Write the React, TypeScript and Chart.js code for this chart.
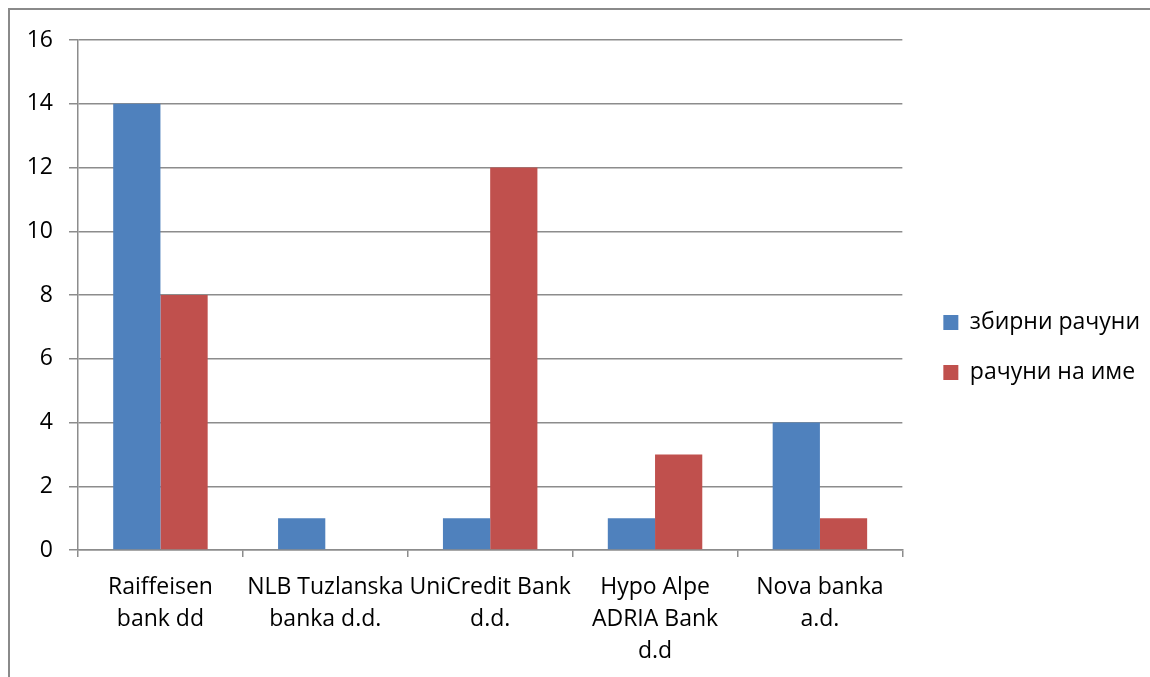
import React, { useEffect, useRef } from "react";
import { Chart, registerables } from "chart.js";

Chart.register(...registerables);

const categories: string[][] = [
  ["Raiffeisen", "bank dd"],
  ["NLB Tuzlanska", "banka d.d."],
  ["UniCredit Bank", "d.d."],
  ["Hypo Alpe", "ADRIA Bank", "d.d"],
  ["Nova banka", "a.d."],
];
const seriesNames = ["збирни рачуни", "рачуни на име"];
const zbirniValues = [14, 1, 1, 1, 4];
const naImeValues = [8, 0, 12, 3, 1];
const yTicks = { min: 0, max: 16, step: 2 };

const GRID = "#8c8c8c";
const FONT = "'Open Sans', 'Liberation Sans', sans-serif";
const FS = 23;

export default function App() {
  const ref = useRef<HTMLCanvasElement | null>(null);
  useEffect(() => {
    if (!ref.current) return;
    const chart = new Chart(ref.current, {
      type: "bar",
      data: {
        labels: categories,
        datasets: [
          {
            label: seriesNames[0],
            data: zbirniValues,
            backgroundColor: "#4F81BD",
            borderWidth: 0,
            categoryPercentage: 0.573,
            barPercentage: 1,
            yAxisID: "y",
          },
          {
            label: seriesNames[1],
            data: naImeValues,
            backgroundColor: "#C0504D",
            borderWidth: 0,
            categoryPercentage: 0.573,
            barPercentage: 1,
            yAxisID: "y",
          },
        ],
      },
      options: {
        responsive: false,
        animation: false,
        devicePixelRatio: 1,
        layout: { padding: { top: 8, right: 0, bottom: 0, left: 0 } },
        font: { family: FONT },
        plugins: {
          tooltip: { enabled: false },
          legend: {
            position: "right",
            align: "center",
            labels: {
              boxWidth: 15,
              boxHeight: 15,
              padding: 27,
              color: "#000",
              font: { family: FONT, size: FS },
            },
          },
        },
        scales: {
          x: {
            type: "category",
            offset: true,
            grid: {
              offset: true,
              drawOnChartArea: false,
              color: GRID,
              lineWidth: 1.5,
              tickLength: 7,
            },
            border: { display: true, color: GRID, width: 1.5 },
            ticks: {
              color: "#000",
              padding: 14,
              maxRotation: 0,
              autoSkip: false,
              font: { family: FONT, size: FS, lineHeight: 1.4 },
            },
            afterFit: (s: any) => {
              s.height = 127;
            },
          },
          topSpacer: {
            type: "linear",
            position: "top",
            display: false,
            afterFit: (s: any) => {
              s.height = 22;
            },
          },
          y: {
            position: "left",
            min: yTicks.min,
            max: yTicks.max,
            ticks: {
              stepSize: yTicks.step,
              color: "#000",
              padding: 16,
              font: { family: FONT, size: FS },
            },
            grid: { color: GRID, lineWidth: 1.5, tickLength: 9 },
            border: { display: true, color: GRID, width: 1.5 },
            afterFit: (s: any) => {
              s.width = 68;
            },
          },
          spacer: {
            type: "linear",
            position: "right",
            display: false,
            afterFit: (s: any) => {
              s.width = 14;
            },
          },
        },
      } as any,
    });
    return () => chart.destroy();
  }, []);

  return (
    <div style={{ position: "fixed", inset: 0, overflow: "hidden", background: "#fff" }}>
      <div
        style={{
          position: "absolute",
          left: 8,
          top: 8,
          width: 1170,
          height: 700,
          borderTop: "2px solid #8a8a8a",
          borderLeft: "2px solid #8a8a8a",
        }}
      >
        <canvas ref={ref} width={1140} height={667} style={{ display: "block" }} />
      </div>
    </div>
  );
}
